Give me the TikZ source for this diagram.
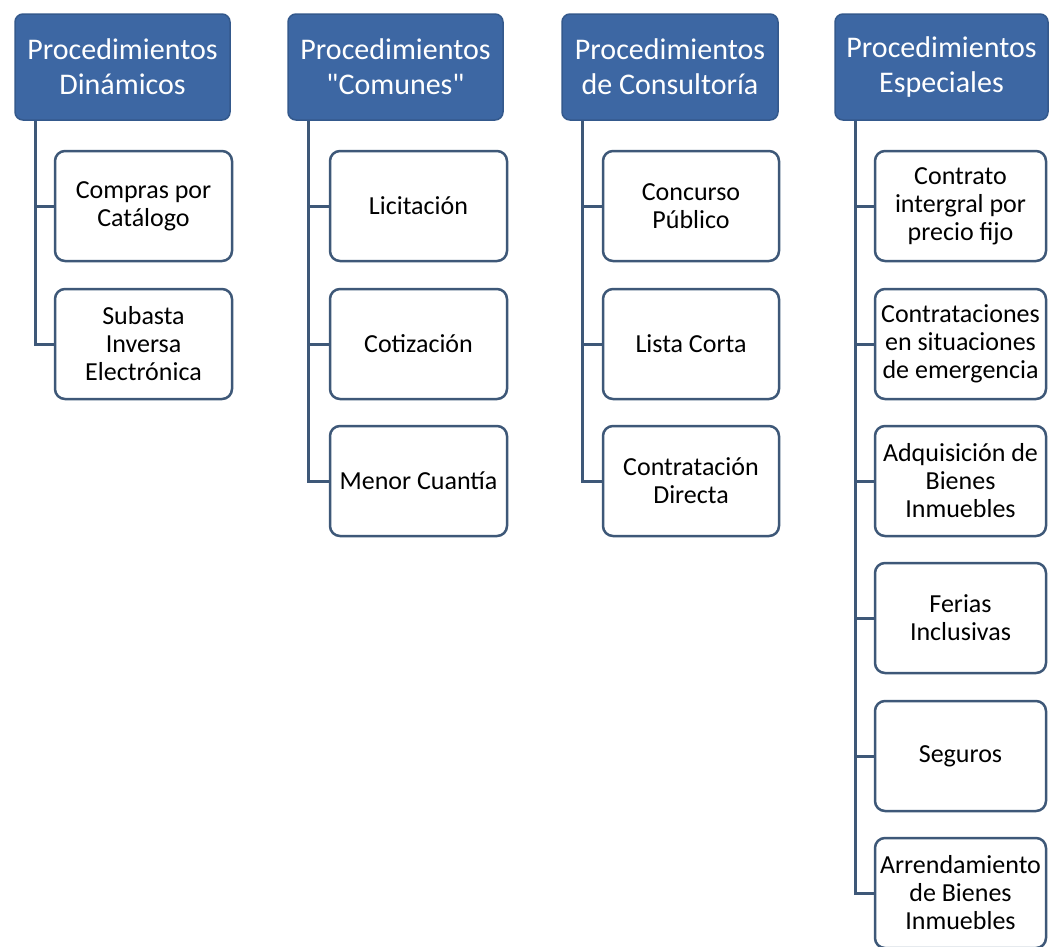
\documentclass[tikz,border=0pt]{standalone}
\usepackage{fontspec}
\setmainfont{Carlito}[Ligatures=TeXOff]
\definecolor{hdr}{HTML}{3D67A3}
\definecolor{hdrb}{HTML}{34598C}
\definecolor{lnk}{HTML}{3E5878}
\begin{document}
\begin{tikzpicture}[x=1pt,y=-1pt,
  hdrbox/.style={rectangle, rounded corners=8pt, fill=hdr, draw=hdrb, line width=1.5pt,
    text=white, font=\fontsize{30}{35}\selectfont, align=center,
    minimum height=106pt, inner sep=0pt},
  kid/.style={rectangle, rounded corners=10pt, fill=white, draw=lnk, line width=2.5pt,
    font=\fontsize{26}{28}\selectfont, align=center, text=black,
    minimum height=110pt, inner sep=0pt},
  conn/.style={draw=lnk, line width=3pt}]
\useasboundingbox (0,0) rectangle (1049,946);
\clip (0,0) rectangle (1049,946);
\fill[white] (0,0) rectangle (1049,946);

% trunk x positions
\coordinate (t1) at (35,0);
\coordinate (t2) at (308,0);
\coordinate (t3) at (582,0);
\coordinate (t4) at (855,0);

% headers
\node[hdrbox, minimum width=215pt] (h1) at (122.5,67) {Procedimientos\\Dinámicos};
\node[hdrbox, minimum width=215pt] (h2) at (395.5,67) {Procedimientos\\"Comunes"};
\node[hdrbox, minimum width=216pt] (h3) at (670,67) {Procedimientos\\de Consultoría};
\node[hdrbox, minimum width=213pt] (h4) at (941.5,67) {Procedimientos\\Especiales};

% column 1
\node[kid, minimum width=177pt] (c11) at (143.5,206) {Compras por\\Catálogo};
\node[kid, minimum width=177pt] (c12) at (143.5,344) {Subasta\\Inversa\\Electrónica};
% column 2
\node[kid, minimum width=177pt] (c21) at (418.5,206) {Licitación};
\node[kid, minimum width=177pt] (c22) at (418.5,344) {Cotización};
\node[kid, minimum width=177pt] (c23) at (418.5,481) {Menor Cuantía};
% column 3
\node[kid, minimum width=176pt] (c31) at (691,206) {Concurso\\Público};
\node[kid, minimum width=176pt] (c32) at (691,344) {Lista Corta};
\node[kid, minimum width=176pt] (c33) at (691,481) {Contratación\\Directa};
% column 4
\node[kid, minimum width=171pt] (c41) at (960.5,206) {Contrato\\intergral por\\precio fijo};
\node[kid, minimum width=171pt] (c42) at (960.5,344) {Contrataciones\\en situaciones\\de emergencia};
\node[kid, minimum width=171pt] (c43) at (960.5,481) {Adquisición de\\Bienes\\Inmuebles};
\node[kid, minimum width=171pt] (c44) at (960.5,618) {Ferias\\Inclusivas};
\node[kid, minimum width=171pt] (c45) at (960.5,756) {Seguros};
\node[kid, minimum width=171pt] (c46) at (960.5,893) {Arrendamiento\\de Bienes\\Inmuebles};

% connectors
\draw[conn] (h1.south -| t1) |- (c12.west);
\draw[conn] (h1.south -| t1) |- (c11.west);
\draw[conn] (h2.south -| t2) |- (c23.west);
\draw[conn] (h2.south -| t2) |- (c21.west);
\draw[conn] (h2.south -| t2) |- (c22.west);
\draw[conn] (h3.south -| t3) |- (c33.west);
\draw[conn] (h3.south -| t3) |- (c31.west);
\draw[conn] (h3.south -| t3) |- (c32.west);
\draw[conn] (h4.south -| t4) |- (c46.west);
\draw[conn] (h4.south -| t4) |- (c41.west);
\draw[conn] (h4.south -| t4) |- (c42.west);
\draw[conn] (h4.south -| t4) |- (c43.west);
\draw[conn] (h4.south -| t4) |- (c44.west);
\draw[conn] (h4.south -| t4) |- (c45.west);
\end{tikzpicture}
\end{document}
